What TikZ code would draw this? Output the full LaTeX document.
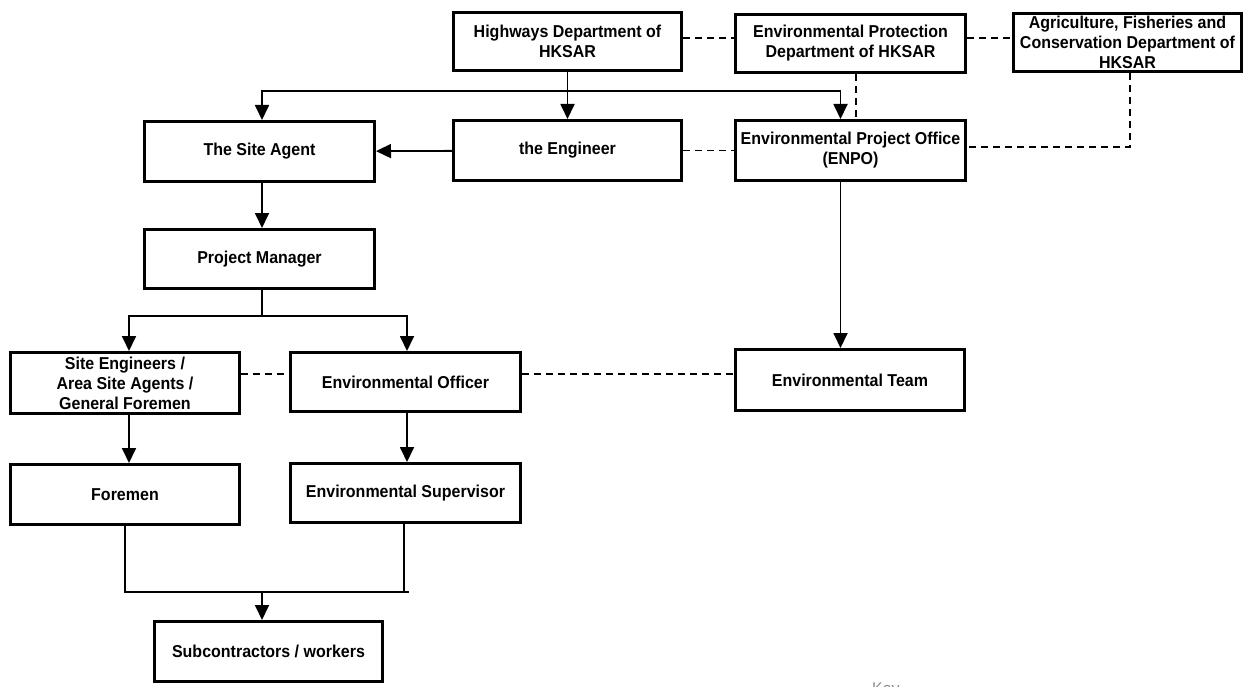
\documentclass[tikz,border=0pt]{standalone}
\usepackage{fontspec}
\setmainfont{Liberation Sans}[FakeStretch=0.93]
\usetikzlibrary{arrows.meta,calc}
\begin{document}
\begin{tikzpicture}[x=1pt,y=-1pt,
  box/.style={draw,line width=3pt,align=center,inner sep=2pt,
    font=\fontsize{17.2}{20}\selectfont\bfseries},
  conn/.style={line width=1.8pt},
  arr/.style={conn,-{Triangle[length=15pt,width=14pt]}},
  dsh/.style={line width=1.7pt,dash pattern=on 7pt off 5pt}]
\useasboundingbox (0,0) rectangle (1246,687);
% boxes
\node[box,minimum width=228pt,minimum height=58pt] (hwy) at (567.5,41.5) {Highways Department of\\HKSAR};
\node[box,minimum width=230pt,minimum height=58pt] (epd) at (850.5,43.5) {Environmental Protection\\Department of HKSAR};
\node[box,minimum width=228pt,minimum height=58pt] (afcd) at (1127.5,42.5) {Agriculture, Fisheries and\\Conservation Department of\\HKSAR};
\node[box,minimum width=228pt,minimum height=60pt] (eng) at (567.5,150.5) {the Engineer};
\node[box,minimum width=230pt,minimum height=60pt] (enpo) at (850.5,150.5) {Environmental Project Office\\(ENPO)};
\node[box,minimum width=230pt,minimum height=60pt] (sa) at (259.5,151.5) {The Site Agent};
\node[box,minimum width=230pt,minimum height=59pt] (pm) at (259.5,259) {Project Manager};
\node[box,minimum width=229pt,minimum height=61pt] (se) at (125,383) {Site Engineers /\\Area Site Agents /\\General Foremen};
\node[box,minimum width=230pt,minimum height=59pt] (eo) at (405.5,382) {Environmental Officer};
\node[box,minimum width=229pt,minimum height=61pt] (et) at (850,380) {Environmental Team};
\node[box,minimum width=229pt,minimum height=60pt] (fm) at (125,494.5) {Foremen};
\node[box,minimum width=230pt,minimum height=59pt] (es) at (405.5,493) {Environmental Supervisor};
\node[box,minimum width=228pt,minimum height=60pt] (sub) at (268.5,651.5) {Subcontractors / workers};
\node[anchor=north west,inner sep=0pt,text=black!45,font=\fontsize{17}{20}\selectfont] (key) at (872,683) {Key};
% solid connectors
\coordinate (t1) at (567.5,91);
\draw[arr] (hwy) -- (eng);
\draw[arr] (t1) -| ([xshift=2.5pt]sa.north);
\draw[arr] (t1) -| ([xshift=-10pt]enpo.north);
\draw[arr] (eng) -- (sa);
\draw[arr] ([xshift=2.5pt]sa.south) -- ([xshift=2.5pt]pm.north);
\coordinate (t2) at (262,316);
\draw[conn] ([xshift=2.5pt]pm.south) -- (t2);
\draw[arr] (t2) -| ([xshift=4pt]se.north);
\draw[arr] (t2) -| ([xshift=1.5pt]eo.north);
\draw[arr] ([xshift=-10pt]enpo.south) -- ([xshift=-10pt]enpo.south |- et.north);
\draw[arr] ([xshift=4pt]se.south) -- ([xshift=4pt]fm.north);
\draw[arr] ([xshift=1.5pt]eo.south) -- ([xshift=1.5pt]es.north);
\coordinate (t3) at (262,592);
\draw[conn] (fm.south) |- ([xshift=3pt]es.south |- t3);
\draw[conn] ([xshift=-1.5pt]es.south) -- ([xshift=-1.5pt]es.south |- t3);
\draw[arr] (t3) -- (t3 |- sub.north);
% dashed connectors
\draw[dsh] ([yshift=3.5pt]hwy.east) -- ([yshift=3.5pt]hwy.east -| epd.west);
\draw[dsh] ([yshift=5.5pt]epd.east) -- ([yshift=5.5pt]epd.east -| afcd.west);
\draw[dsh] ([xshift=5.5pt]epd.south) -- ([xshift=5.5pt]epd.south |- enpo.north);
\draw[dsh] ([xshift=2.5pt]afcd.south) |- ([yshift=3.5pt]enpo.east);
\draw[dsh] (eng) -- (enpo);
\draw[dsh] (se.east |- 0,374) -- (eo.west |- 0,374);
\draw[dsh] (eo.east |- 0,374) -- (et.west |- 0,374);
\end{tikzpicture}
\end{document}
